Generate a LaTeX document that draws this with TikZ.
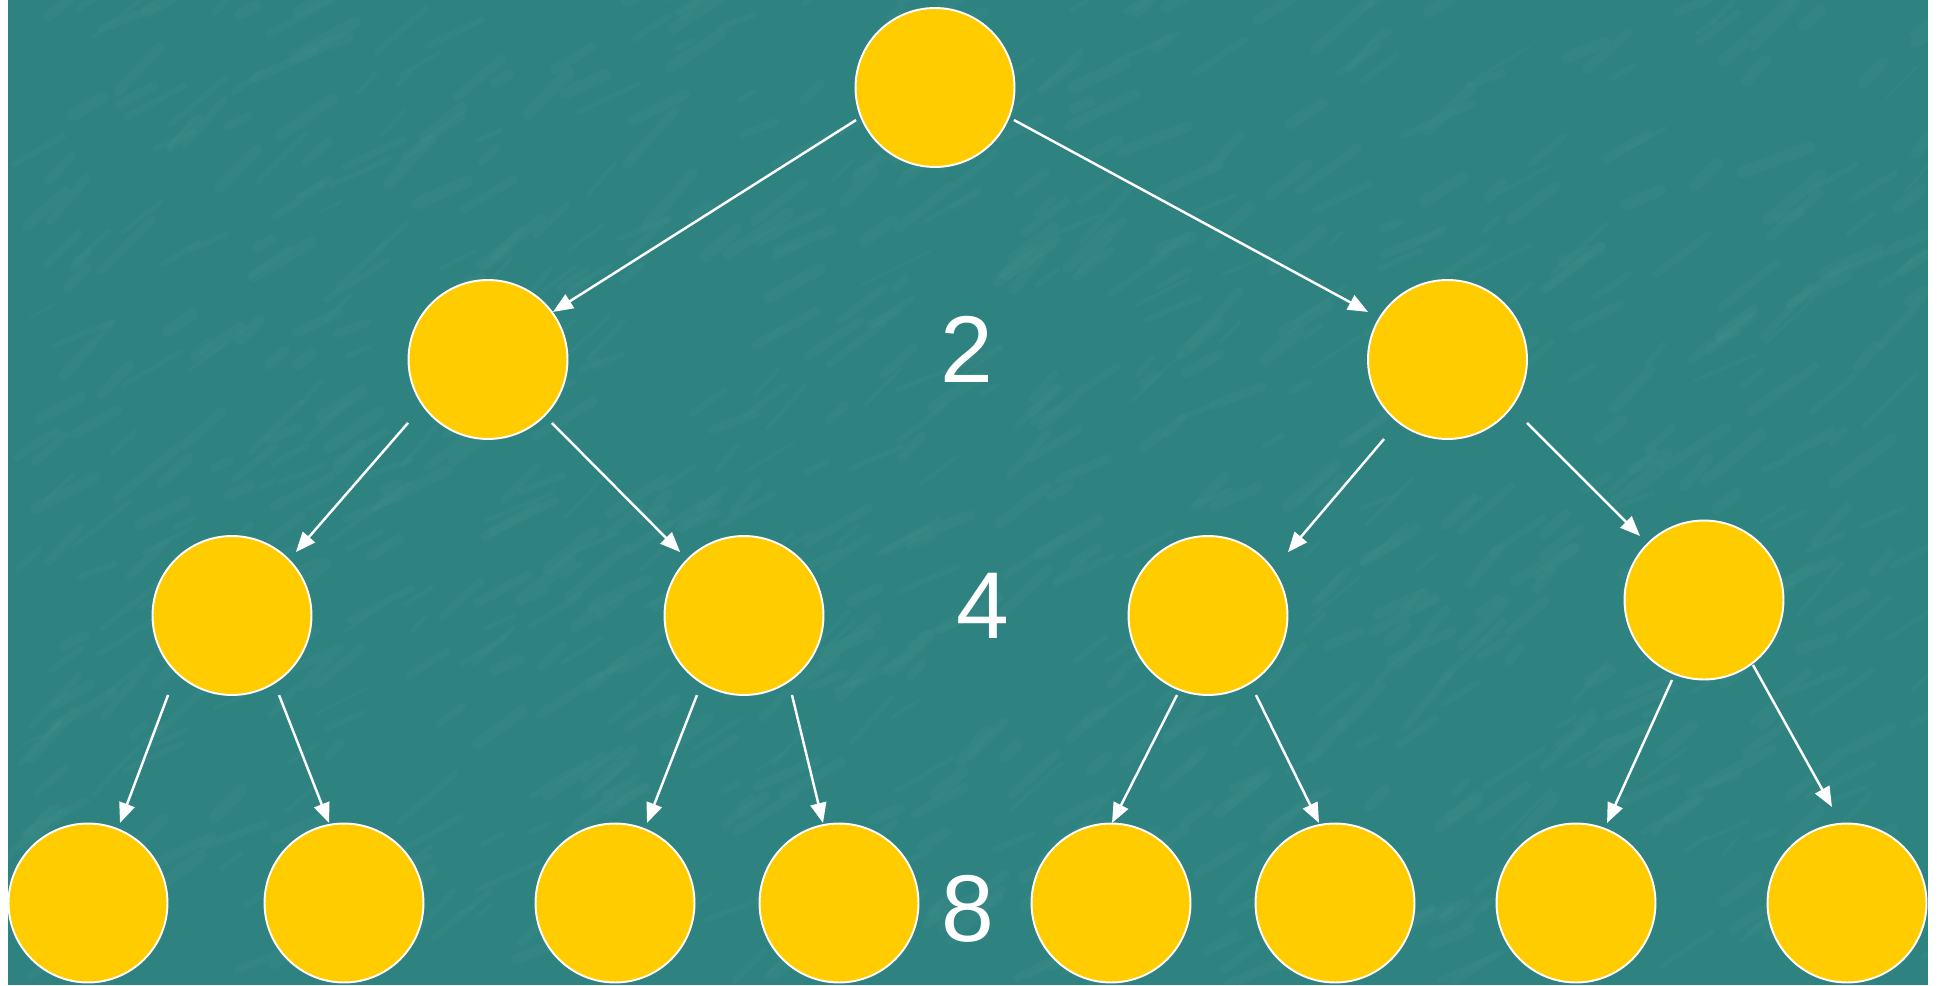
\documentclass[tikz,border=0pt]{standalone}
\usepackage{fontspec}
\setmainfont{Liberation Sans}
\usetikzlibrary{arrows.meta,calc}
\definecolor{slate}{HTML}{2E8280}
\definecolor{slatelight}{HTML}{6AAFAA}
\definecolor{gold}{HTML}{FFCC00}
\begin{document}
\begin{tikzpicture}[x=0.02cm,y=0.02cm,
  disc/.style={circle,fill=gold,draw=white,line width=1.1pt,minimum size=3.18cm,inner sep=0pt},
  link/.style={draw=white,line width=1.4pt,-{Triangle[length=0.4cm,width=0.32cm]}},
  count/.style={text=white,font=\fontsize{54}{60}\selectfont,inner sep=0pt}]
\useasboundingbox (0,0) rectangle (1940,985);
\fill[white] (0,0) rectangle (1940,985);
\fill[slate] (8,0) rectangle (1928,985);

% marbled texture of the board
\begin{scope}
  \clip (8,0) rectangle (1928,985);
  \pgfmathsetseed{7}
  \foreach \i in {1,...,900}{
    \pgfmathsetmacro\px{8+1920*rnd}
    \pgfmathsetmacro\py{985*rnd}
    \pgfmathsetmacro\pl{15+60*rnd}
    \pgfmathsetmacro\pa{20+30*rnd}
    \pgfmathsetmacro\pw{2+5*rnd}
    \draw[slatelight,opacity=0.07,line width=\pw pt,line cap=round] (\px,\py) -- ++(\pa:\pl);
  }
\end{scope}

% tree levels
\node[disc] (R) at (935,897.5) {};
\node[disc] (A) at (488,625.5) {};
\node[disc] (B) at (1447.5,625.5) {};
\node[disc] (C) at (232,369.5) {};
\node[disc] (D) at (744,369.5) {};
\node[disc] (E) at (1208,369.5) {};
\node[disc] (F) at (1704,385) {};
\node[disc] (G1) at (88,82) {};
\node[disc] (G2) at (344,82) {};
\node[disc] (G3) at (615,82) {};
\node[disc] (G4) at (839,82) {};
\node[disc] (G5) at (1111,82) {};
\node[disc] (G6) at (1335,82) {};
\node[disc] (G7) at (1576,82) {};
\node[disc] (G8) at (1847,82) {};

% counts per level
\node[count] (n2) at (967,636) {2};
\node[count] (n4) at (983,379.5) {4};
\node[count] (n8) at (968,76.5) {8};

% arrows
\draw[link] ($(R)+(202.4:85.4)$) -- ($(A)+(36.2:80.5)$);
\draw[link] ($(R)+(337.6:85.4)$) -- ($(B)+(149.1:92.6)$);
\draw[link] ($(A)+(218.4:102)$) -- ($(C)+(44.8:90)$);
\draw[link] ($(A)+(315.2:90)$) -- ($(D)+(135.2:90)$);
\draw[link] ($(B)+(231.4:101.7)$) -- ($(E)+(38.4:102)$);
\draw[link] ($(B)+(321.4:101.7)$) -- ($(F)+(135:90.5)$);
\draw[link] ($(C)+(231.2:102)$) -- ($(G1)+(68.2:86.2)$);
\draw[link] ($(C)+(300.6:92.4)$) -- ($(G2)+(100.6:81.4)$);
\draw[link] ($(D)+(239.4:92.4)$) -- ($(G3)+(68.2:86.2)$);
\draw[link] ($(D)+(301.1:92.9)$) -- ($(G4)+(101.3:81.6)$);
\draw[link] ($(E)+(248.7:85.3)$) -- ($(G5)+(89.3:80)$);
\draw[link] ($(E)+(301.1:92.9)$) -- ($(G6)+(101.3:81.6)$);
\draw[link] ($(F)+(248.2:86.2)$) -- ($(G7)+(68.8:85.8)$);
\draw[link] ($(F)+(307:81.4)$) -- ($(G8)+(98.9:97.2)$);
\end{tikzpicture}
\end{document}
